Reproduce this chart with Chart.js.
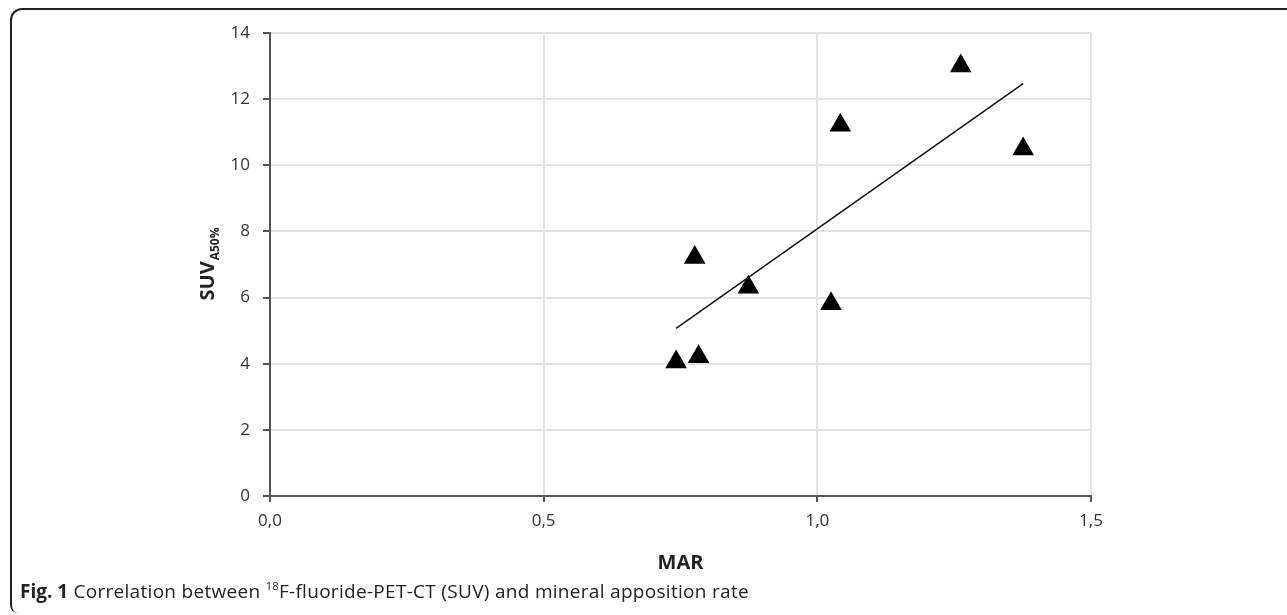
<!DOCTYPE html>
<html>
<head>
<meta charset="utf-8">
<script src="https://cdn.jsdelivr.net/npm/chart.js@4.4.0/dist/chart.umd.min.js"></script>
<style>
  body { margin: 0; background: #fff; width: 1287px; height: 615px; overflow: hidden; position: relative; }
  .frame {
    position: absolute; left: 10px; top: 8px; width: 1300px; height: 603px;
    border-top: 2px solid #222; border-left: 2px solid #222;
    border-top-left-radius: 12px; border-bottom-left-radius: 8px;
  }
  #chart { position: absolute; left: 0; top: 0; }
  .caption {
    position: absolute; left: 20px; top: 578px;
    font-family: "Open Sans", sans-serif; font-size: 19px; letter-spacing: 0.3px; color: #222;
    white-space: nowrap;
  }
  .caption b { font-weight: bold; letter-spacing: 0; }
  .caption sup { font-size: 11px; vertical-align: 8px; line-height: 0; }
</style>
</head>
<body>
<div class="frame"></div>
<canvas id="chart" width="1287" height="615"></canvas>
<div class="caption"><b>Fig. 1</b> Correlation between <sup>18</sup>F-fluoride-PET-CT (SUV) and mineral apposition rate</div>
<script>
// values
const marValues = [0.742, 0.783, 0.776, 0.874, 1.025, 1.042, 1.262, 1.376];
const suvValues = [4.05, 4.21, 7.21, 6.31, 5.81, 11.21, 13.0, 10.49];

// trend line ends as drawn in the figure
const trendX = [0.742, 1.376];
const trendY = [5.07, 12.47];

const xTickLabels = ['0,0', '0,5', '1,0', '1,5'];
const yTickLabels = ['0', '2', '4', '6', '8', '10', '12', '14'];

const tickFont = { family: '"Open Sans", Lato, sans-serif', size: 17 };

// y title with subscript, drawn by hand
const yTitle = {
  id: 'yTitle',
  afterDraw(chart) {
    const ctx = chart.ctx;
    const mid = (chart.chartArea.top + chart.chartArea.bottom) / 2;
    ctx.save();
    ctx.translate(214, mid);
    ctx.rotate(-Math.PI / 2);
    ctx.fillStyle = '#222';
    ctx.textBaseline = 'alphabetic';
    ctx.font = 'bold 20px "Open Sans", Lato, sans-serif';
    const w1 = ctx.measureText('SUV').width;
    ctx.font = 'bold 12px "Open Sans", Lato, sans-serif';
    const w2 = ctx.measureText('A50%').width;
    let x0 = -(w1 + w2) / 2;
    ctx.font = 'bold 20px "Open Sans", Lato, sans-serif';
    ctx.fillText('SUV', x0, 0);
    ctx.font = 'bold 12px "Open Sans", Lato, sans-serif';
    ctx.fillText('A50%', x0 + w1 + 1, 5);
    ctx.restore();
  }
};

const points = marValues.map((x, i) => ({ x: x, y: suvValues[i] }));
const trend = trendX.map((x, i) => ({ x: x, y: trendY[i] }));

new Chart(document.getElementById('chart'), {
  type: 'scatter',
  data: {
    datasets: [
      {
        data: points,
        pointStyle: 'triangle',
        pointRadius: 12.5,
        pointHoverRadius: 12.5,
        backgroundColor: '#000',
        borderColor: '#000',
        borderWidth: 0
      },
      {
        type: 'line',
        data: trend,
        borderColor: '#111',
        borderWidth: 1.5,
        pointRadius: 0,
        fill: false
      }
    ]
  },
  options: {
    responsive: false,
    animation: false,
    devicePixelRatio: 1,
    layout: { padding: { left: 0, top: 33, right: 196, bottom: 0 } },
    plugins: { legend: { display: false }, tooltip: { enabled: false } },
    scales: {
      x: {
        type: 'linear',
        min: 0, max: 1.5,
        ticks: {
          stepSize: 0.5,
          padding: 9,
          color: '#333',
          font: tickFont,
          callback: (v) => xTickLabels[Math.round(v * 2)]
        },
        grid: { color: '#e3e3e3', lineWidth: 2, tickColor: '#555', tickLength: 6 },
        border: { color: '#555', width: 2 },
        title: {
          display: true, text: 'MAR', color: '#222',
          font: { family: '"Open Sans", Lato, sans-serif', size: 20, weight: 'bold' },
          padding: { top: 4, bottom: 40 }
        },
        afterFit: (s) => { s.height = 119; }
      },
      y: {
        min: 0, max: 14,
        ticks: {
          stepSize: 2,
          padding: 13,
          color: '#333',
          font: tickFont,
          callback: (v) => yTickLabels[Math.round(v / 2)]
        },
        grid: { color: '#e3e3e3', lineWidth: 2, tickColor: '#555', tickLength: 7 },
        border: { color: '#555', width: 2 },
        afterFit: (s) => { s.width = 270; }
      }
    }
  },
  plugins: [yTitle]
});
</script>
</body>
</html>
